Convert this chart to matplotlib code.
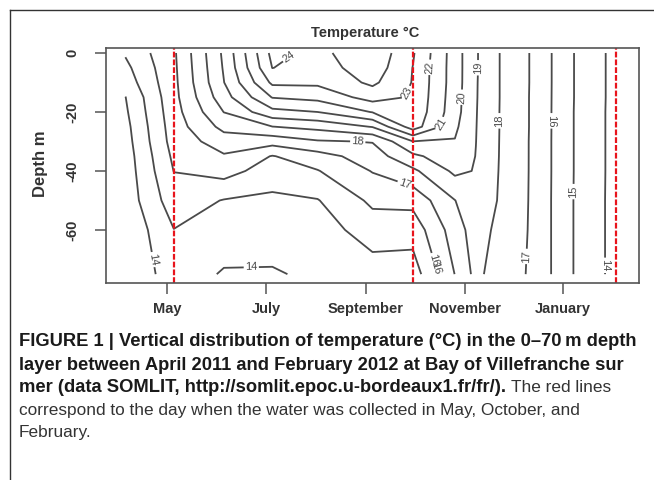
import numpy as np
import matplotlib.pyplot as plt
from matplotlib.lines import Line2D

plt.rcParams['font.family'] = ['Liberation Sans', 'DejaVu Sans']

# sampling dates (days since 1 May 2011) and depths (m)
days = [-26, 4, 35, 65, 93, 127, 152, 178, 191, 206, 225, 251, 280]
depths = [0, -5, -10, -15, -20, -25, -30, -35, -40, -50, -60, -75]

# temperature profiles (degC), one per sampling date, surface -> bottom
t_apr05 = [15.1, 14.75, 14.45, 13.98, 13.85, 13.7, 13.6, 13.5, 13.45, 13.4, 13.15, 13.0]
t_may05 = [16.85, 16.8, 16.75, 16.7, 16.6, 16.5, 16.4, 16.2, 16.02, 15.55, 14.98, 14.6]
t_jun05 = [20.2, 20.1, 19.98, 19.6, 19.02, 18.3, 17.5, 16.9, 16.4, 14.95, 14.6, 13.9]
t_jul05 = [24.3, 24.02, 23.2, 22.05, 20.7, 18.98, 17.4, 15.95, 15.5, 14.8, 14.5, 13.9]
t_aug02 = [23.7, 23.5, 23.2, 22.3, 21.0, 19.3, 17.9, 16.6, 15.95, 14.95, 14.5, 14.2]
t_sep05 = [24.8, 24.6, 24.2, 23.4, 22.05, 20.05, 18.05, 17.5, 17.05, 16.2, 15.5, 14.5]
t_sep30 = [23.1, 22.98, 22.95, 22.9, 22.8, 22.5, 19.98, 18.8, 17.8, 16.3, 15.4, 14.5]
t_oct26 = [20.5, 20.5, 20.5, 20.45, 20.4, 20.2, 19.95, 19.6, 19.2, 17.98, 17.5, 17.02]
t_nov08 = [19.1, 19.1, 19.08, 19.07, 19.05, 19.03, 19.01, 18.98, 18.95, 18.7, 18.5, 18.3]
t_nov23 = [17.98, 17.98, 17.98, 17.98, 17.97, 17.97, 17.96, 17.95, 17.93, 17.9, 17.7, 17.4]
t_dec12 = [16.95, 16.95, 16.95, 16.94, 16.94, 16.94, 16.93, 16.93, 16.93, 16.92, 16.92, 16.92]
t_jan07 = [15.04, 15.04, 15.04, 15.04, 15.03, 15.03, 15.03, 15.03, 15.03, 15.02, 15.02, 15.02]
t_feb06 = [13.56, 13.56, 13.56, 13.56, 13.55, 13.55, 13.55, 13.55, 13.55, 13.54, 13.54, 13.54]

levels = list(range(14, 25))
sampling_days = [4, 152, 278]   # water collection (red lines)

month_ticks = [0, 61, 123, 184, 245]
month_labels = ['May', 'July', 'September', 'November', 'January']
depth_ticks = [0, -20, -40, -60]
depth_labels = ['0', '-20', '-40', '-60']

# where the contour labels sit (day, depth)
label_pos = [(-8.3, -70), (52, -74), (271, -72), (161, -71), (251, -47),
             (167, -71), (236, -23), (146, -46), (223, -69), (117.5, -33),
             (207, -23), (192.5, -5), (182.5, -15), (170.8, -24.4),
             (165.8, -5), (144, -12.5), (78, -3.4)]

temp = np.column_stack([t_apr05, t_may05, t_jun05, t_jul05, t_aug02, t_sep05, t_sep30,
                        t_oct26, t_nov08, t_nov23, t_dec12, t_jan07, t_feb06])

W, H = 654, 480
fig = plt.figure(figsize=(W/100, H/100), dpi=100)
ax = fig.add_axes([106/W, 1-283/H, 533/W, 235/H])

gris = '#4a4a4a'
cs = ax.contour(days, depths, temp, levels=levels, colors=gris, linewidths=1.3)
ax.clabel(cs, inline=True, fmt='%d', fontsize=8, manual=label_pos, inline_spacing=2)

for d in sampling_days:
    ax.axvline(d, color='#e8141c', lw=1.6, dashes=(2.6, 0.9))

ax.set_xlim(-38, 292)
ax.set_ylim(-78, 1.7)
ax.set_xticks(month_ticks)
ax.set_xticklabels(month_labels, fontweight='bold', color='#333333')
ax.set_yticks(depth_ticks)
ax.set_yticklabels(depth_labels, rotation=90, va='center', fontweight='bold', color='#333333')
ax.tick_params(axis='x', length=8, width=1.1, color='#555555', pad=6, labelsize=10.5)
ax.tick_params(axis='y', length=8, width=1.1, color='#555555', pad=11, labelsize=10.5)
for s in ax.spines.values():
    s.set_color('#555555')
    s.set_linewidth(1.2)

fig.text(365/W, 1-33/H, 'Temperature °C', ha='center', va='center',
         fontsize=10.5, fontweight='bold', color='#333333')
fig.text(41/W, 1-164/H, 'Depth m', ha='center', va='center', rotation=90,
         fontsize=12, fontweight='bold', color='#333333')

# outer frame
fig.add_artist(Line2D([10/W, 1], [1-10/H, 1-10/H], transform=fig.transFigure, color='#333333', lw=1))
fig.add_artist(Line2D([10/W, 10/W], [0, 1-10/H], transform=fig.transFigure, color='#333333', lw=1))

# caption
cap_b = 13.2
cap_r = 12.4
x0 = 19/W
fig.text(x0, 1-342/H, 'FIGURE 1 | Vertical distribution of temperature (°C) in the 0–70\u2009m depth',
         fontsize=cap_b, fontweight='bold', va='center', color='#1a1a1a')
fig.text(x0, 1-365/H, 'layer between April 2011 and February 2012 at Bay of Villefranche sur',
         fontsize=cap_b, fontweight='bold', va='center', color='#1a1a1a')
t3 = fig.text(x0, 1-388/H, 'mer (data SOMLIT, http://somlit.epoc.u-bordeaux1.fr/fr/).',
              fontsize=cap_b, fontweight='bold', va='center', color='#1a1a1a')
rend = fig.canvas.get_renderer()
bb = t3.get_window_extent(rend)
fig.text(bb.x1/W + 5/W, 1-388/H, 'The red lines', fontsize=cap_r, va='center', color='#333333')
fig.text(x0, 1-410/H, 'correspond to the day when the water was collected in May, October, and',
         fontsize=cap_r, va='center', color='#333333')
fig.text(x0, 1-433/H, 'February.', fontsize=cap_r, va='center', color='#333333')

fig.savefig('out.png', dpi=100)
